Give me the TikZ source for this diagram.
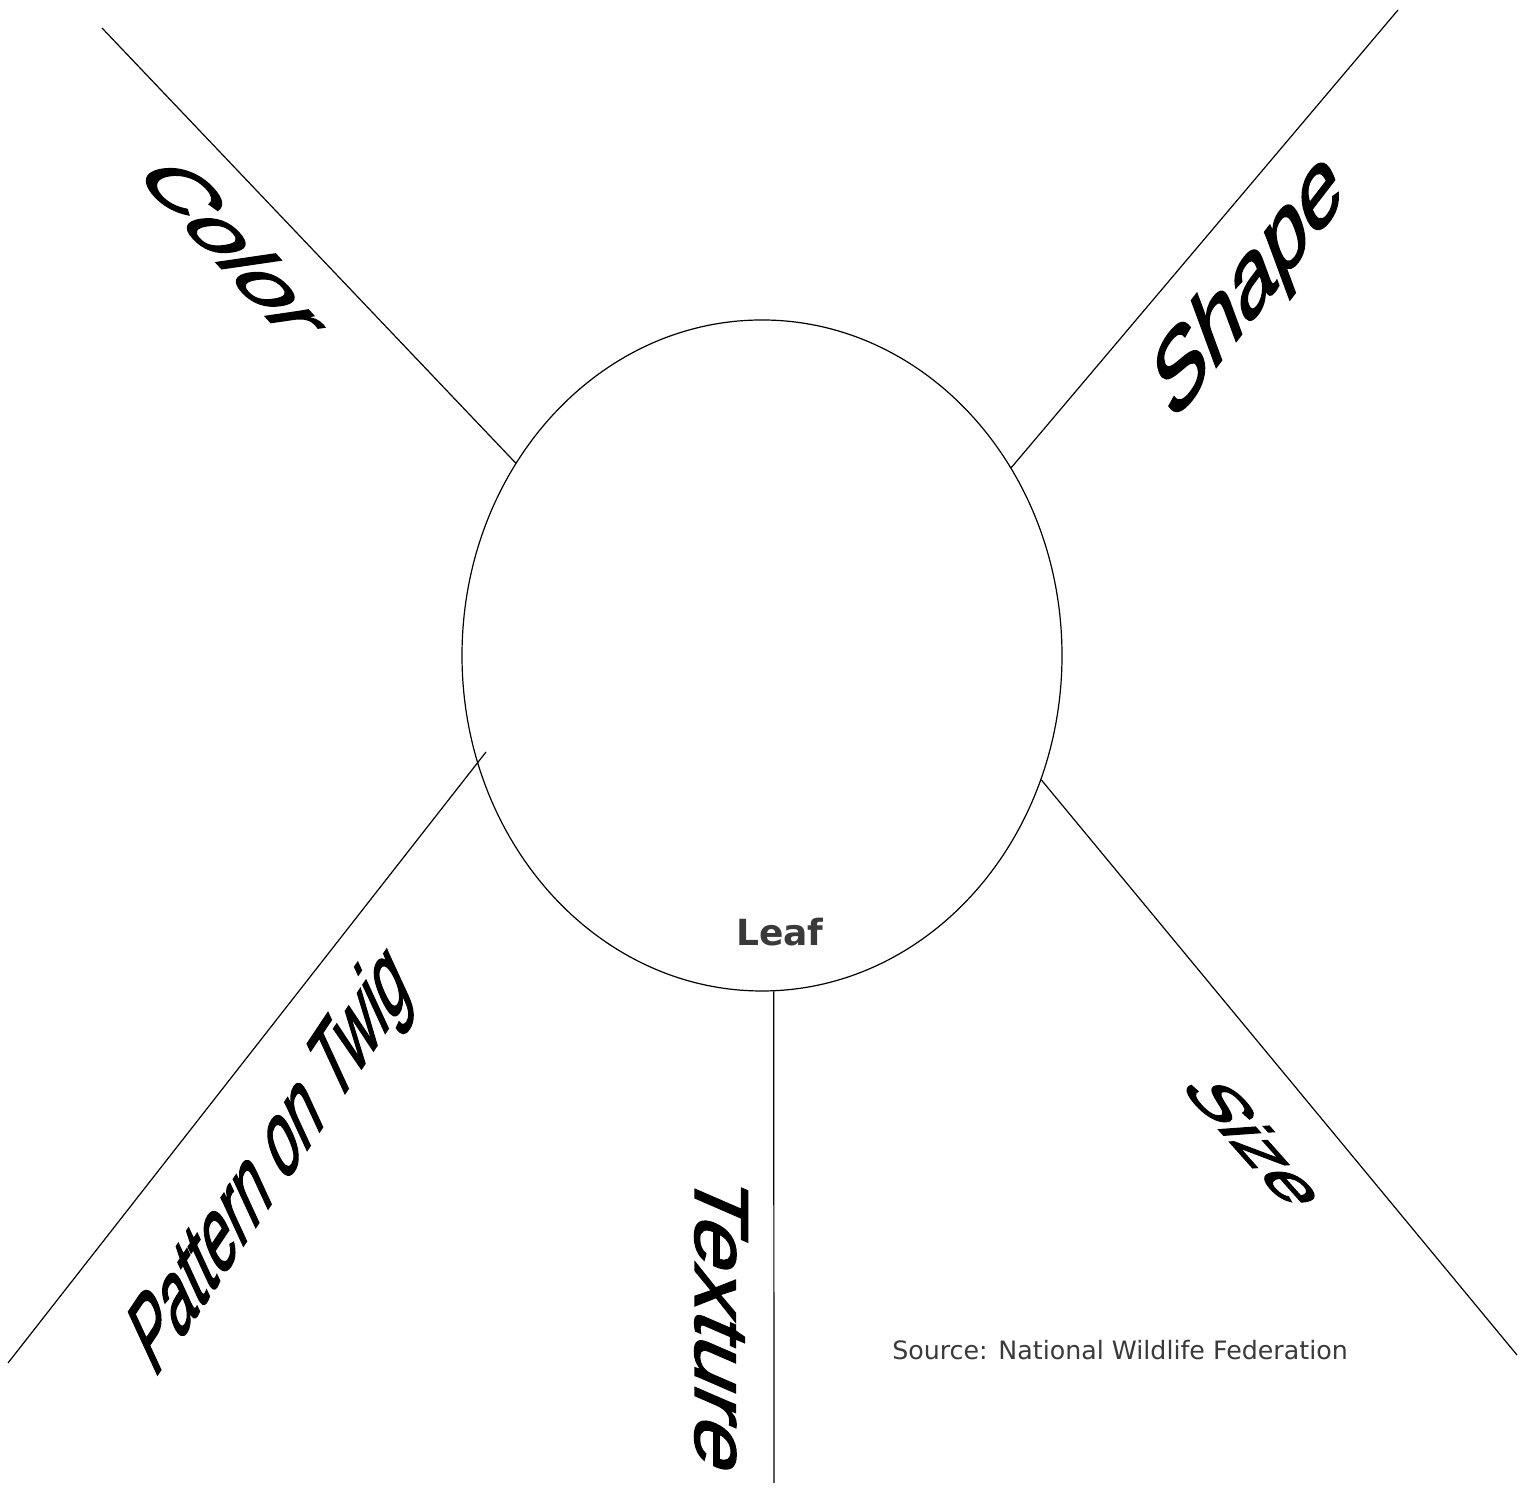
\documentclass[tikz,border=0pt]{standalone}
\usepackage{fontspec}
\setmainfont{Liberation Sans}
\newfontfamily\wordfont[FakeBold=2]{Liberation Sans}
\newfontfamily\comicfont{DejaVu Sans}
\usetikzlibrary{shapes.geometric}
\definecolor{labelgray}{RGB}{58,58,58}
\begin{document}
\begin{tikzpicture}[x=1pt,y=1pt,
  bigword/.style={inner sep=0pt, font=\wordfont\fontsize{100}{100}\selectfont},
  spoke/.style={line width=1.2pt, black},
]
\useasboundingbox (0,0) rectangle (1529,1493);
\fill[white] (0,0) rectangle (1529,1493);

\node[draw, line width=1.2pt, ellipse, minimum width=600pt, minimum height=671pt, inner sep=0pt] (leaf) at (762,837.5) {};
\node[font=\comicfont\bfseries\fontsize{36}{36}\selectfont, text=labelgray] (leaflabel) at (780,561) {Leaf};

\coordinate (tlend) at (102,1465);
\coordinate (trend) at (1398,1483);
\coordinate (blin) at (486,741);
\coordinate (blend) at (8,130);
\coordinate (brend) at (1517,138);
\coordinate (bend) at (774,10);

\draw[spoke] (leaf.142.66) -- (tlend);
\draw[spoke] (leaf.37.37) -- (trend);
\draw[spoke] (blin) -- (blend);
\draw[spoke] (leaf.336.74) -- (brend);
\draw[spoke] (leaf.272.05) -- (bend);

\node[bigword, cm={0.63,-0.69,0.82,0.12,(0,0)}] (color) at (236,1245) {Color};
\node[bigword, cm={0.60,0.78,-0.34,0.92,(0,0)}] (shape) at (1250,1205) {Shape};
\node[bigword, cm={0.37,0.555,-0.42,0.91,(0,0)}] (pattern) at (272,330) {Pattern on Twig};
\node[bigword, cm={0,-0.9,0.76,-0.33,(0,0)}] (texture) at (721,168) {Texture};
\node[bigword, cm={0.56,-0.63,0.70,0.05,(0,0)}] (size) at (1257,350) {Size};

\node[font=\comicfont\fontsize{25.3}{25.3}\selectfont, text=labelgray] (source) at (1120,143) {Source: National Wildlife Federation};
\end{tikzpicture}
\end{document}
